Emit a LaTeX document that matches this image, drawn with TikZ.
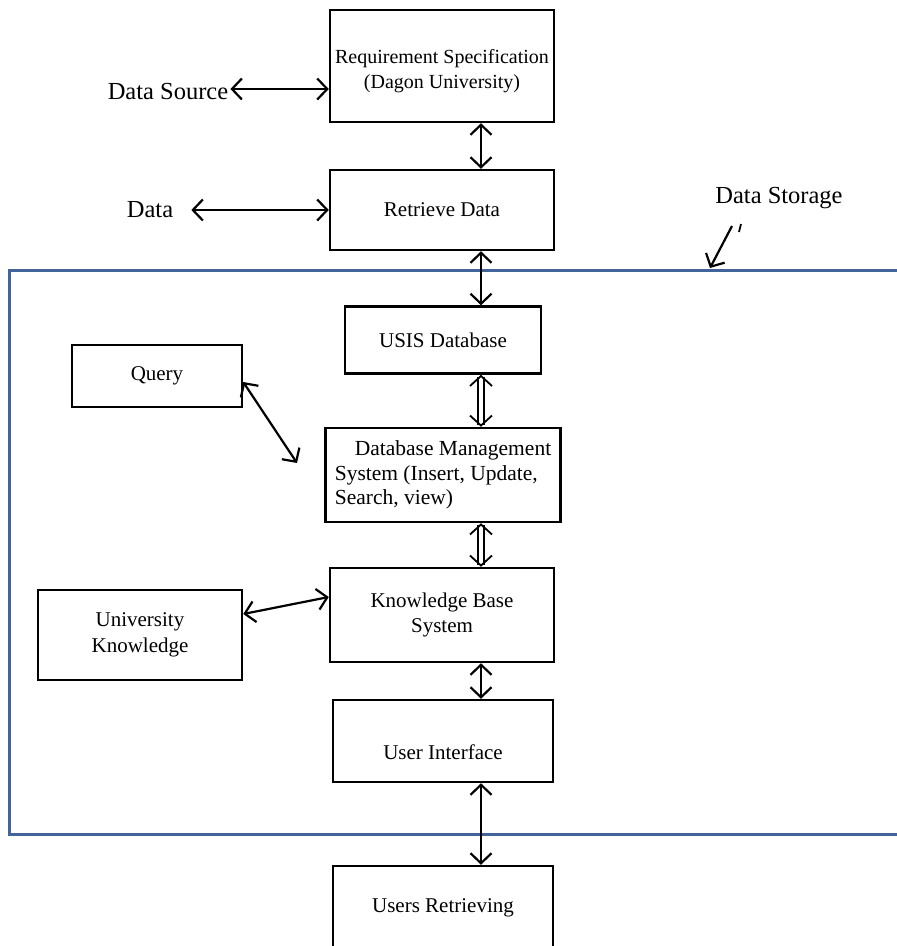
\documentclass[tikz,border=0pt]{standalone}
\usepackage{fontspec}
\setmainfont{Liberation Serif}
\usetikzlibrary{arrows.meta, calc, positioning}
\definecolor{frameBlue}{HTML}{41659A}
\tikzset{
  block/.style      = {draw, line width=2.5pt, inner sep=0pt, align=center,
                       font=\fontsize{21}{25.5}\selectfont},
  lbl/.style        = {inner sep=2pt, font=\fontsize{24.5}{29}\selectfont},
  biarrow/.style    = {{Straight Barb[length=10pt,width=21pt]}-{Straight Barb[length=10pt,width=21pt]},
                       line width=2.2pt},
  dblarrow/.style   = {{Straight Barb[length=10pt,width=22pt]}-{Straight Barb[length=10pt,width=22pt]},
                       double, double distance=4pt, line width=1.8pt},
  onearrow/.style   = {-{Straight Barb[length=10pt,width=21pt]}, line width=2.2pt},
  storeframe/.style = {frameBlue, line width=3pt},
}
\begin{document}
\begin{tikzpicture}[x=1pt,y=-1pt]
  \useasboundingbox (0,0) rectangle (897,946);
  \clip (0,0) rectangle (897,946);
  \coordinate (spine) at (481,0);
  \draw[storeframe] (905,270) -| (9,834) -- (905,834);
  \node[block, minimum width=224, minimum height=112, font=\fontsize{20}{25}\selectfont]
       (req) at (442,66) {\rule{0pt}{24pt}Requirement Specification\\(Dagon University)};
  \node[block, minimum width=224, minimum height=80]  (ret)   at (442,210) {Retrieve Data};
  \node[block, minimum width=196, minimum height=67]  (usis)  at (443,340) {USIS Database};
  \node[block, minimum width=170, minimum height=62]  (query) at (157,376) {Query};
  \node[block, minimum width=235, minimum height=94, align=left, font=\fontsize{21.5}{24.5}\selectfont]
       (dbms) at (443,475) {\hspace{20pt}Database Management\\System (Insert, Update,\\Search, view)};
  \node[block, minimum width=204, minimum height=90]  (uk)    at (140,635) {University\\Knowledge};
  \node[block, minimum width=224, minimum height=94]  (kbs)   at (442,615) {Knowledge Base\\System};
  \node[block, minimum width=220, minimum height=82, text height=40pt, text depth=4pt]
       (ui) at (443,741) {User Interface};
  \node[block, minimum width=220, minimum height=84]  (users) at (443,908) {Users Retrieving};
  \node[lbl] (src)   at (168,92)  {Data Source};
  \node[lbl] (dat)   at (150,210) {Data};
  \node[lbl] (store) at (779,198) {Data Storage};
  \draw[biarrow]  (req.south -| spine)  -- (ret.north -| spine);
  \draw[biarrow]  (ret.south -| spine)  -- (usis.north -| spine);
  \draw[dblarrow] (usis.south -| spine) -- (dbms.north -| spine);
  \draw[dblarrow] (dbms.south -| spine) -- (kbs.north -| spine);
  \draw[biarrow]  (kbs.south -| spine)  -- (ui.north -| spine);
  \draw[biarrow]  (ui.south -| spine)   -- (users.north -| spine);
  \draw[biarrow]  ([yshift=3pt]src.east) -- ([yshift=3pt]src.east -| req.west);
  \draw[biarrow]  ([xshift=16pt]dat.east) -- (dat -| ret.west);
  \coordinate (qend) at (297,463);
  \draw[biarrow]  ([yshift=-6pt]query.east) -- (qend);
  \draw[biarrow]  ([yshift=21pt]uk.east) -- ([yshift=18pt]kbs.west);
  \coordinate (dsTop) at (732,226); \coordinate (dsTip) at (710,268);
  \draw[onearrow] (dsTop) -- (dsTip);
  \draw[line width=1.8pt] (741,224) -- (739,232);
\end{tikzpicture}
\end{document}
